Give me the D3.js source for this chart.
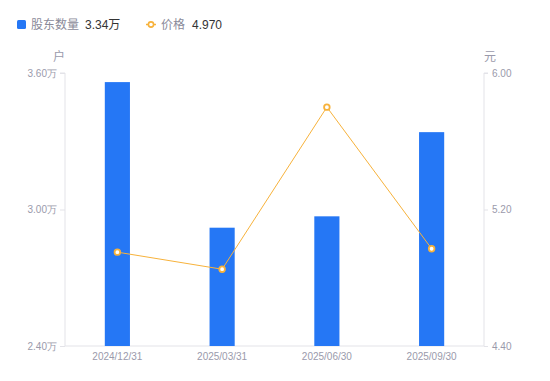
<!DOCTYPE html>
<html>
<head>
<meta charset="utf-8">
<script src="https://cdn.jsdelivr.net/npm/d3@7"></script>
<style>
  body { margin: 0; background: #fff; }
  svg { font-family: "Liberation Sans", "Noto Sans CJK SC", sans-serif; }
</style>
</head>
<body>
<div id="chart"></div>
<script>
// data
const dates = ['2024/12/31', '2025/03/31', '2025/06/30', '2025/09/30']
const holders = [3.56, 2.92, 2.97, 3.34]   // 万户
const prices = [4.95, 4.85, 5.80, 4.97]    // 元
const leftTicks = [2.4, 3.0, 3.6]
const rightTicks = [4.4, 5.2, 6.0]

const width = 550, height = 381
const margin = { top: 73, right: 66, bottom: 35, left: 65 }
const barColor = '#2577f5'
const lineColor = '#f7b23b'
const axisColor = '#e3e3e8'
const labelColor = '#9a9aab'

const svg = d3.select('#chart').append('svg')
  .attr('width', width)
  .attr('height', height)

const x = d3.scaleBand()
  .domain(dates)
  .range([margin.left, width - margin.right])
  .paddingInner(0.76)
  .paddingOuter(0.38)

const xc = d => x(d) + x.bandwidth() / 2

const yL = d3.scaleLinear().domain([2.4, 3.6]).range([height - margin.bottom, margin.top])
const yR = d3.scaleLinear().domain([4.4, 6.0]).range([height - margin.bottom, margin.top])

// left axis
const gl = svg.append('g')
  .attr('transform', 'translate(' + margin.left + ',0)')
  .call(d3.axisLeft(yL).tickValues(leftTicks).tickSize(5).tickPadding(3)
    .tickFormat(d => d3.format('.2f')(d) + '万'))
gl.selectAll('.tick text').attr('fill', labelColor).style('font-size', '10px')

// right axis
const gr = svg.append('g')
  .attr('transform', 'translate(' + (width - margin.right) + ',0)')
  .call(d3.axisRight(yR).tickValues(rightTicks).tickSize(4).tickPadding(4)
    .tickFormat(d3.format('.2f')))
gr.selectAll('.tick text').attr('fill', labelColor).style('font-size', '10px')

// bottom axis
const gb = svg.append('g')
  .attr('transform', 'translate(0,' + (height - margin.bottom) + ')')
  .call(d3.axisBottom(x).tickSize(0).tickPadding(7))
gb.selectAll('.tick text').attr('fill', labelColor).style('font-size', '10px')

svg.selectAll('.domain, .tick line').attr('stroke', axisColor)
gl.select('.domain').attr('d', 'M-5,' + yL(3.6) + 'H0V' + yL(2.4))
gr.select('.domain').attr('d', 'M4,' + yR(6.0) + 'H0V' + yR(4.4))
gb.select('.domain').attr('d', 'M' + margin.left + ',0H' + (width - margin.right))

// unit labels
svg.append('text').attr('x', margin.left - 6).attr('y', 61)
  .attr('text-anchor', 'middle').attr('fill', labelColor).style('font-size', '12px').text('户')
svg.append('text').attr('x', width - margin.right + 6).attr('y', 61)
  .attr('text-anchor', 'middle').attr('fill', labelColor).style('font-size', '12px').text('元')

// bars
svg.append('g').selectAll('rect')
  .data(holders)
  .enter().append('rect')
    .attr('x', (d, i) => x(dates[i]))
    .attr('y', d => yL(d))
    .attr('width', x.bandwidth())
    .attr('height', d => yL(2.4) - yL(d))
    .attr('fill', barColor)

// price line
const line = d3.line()
  .x((d, i) => xc(dates[i]))
  .y(d => yR(d))

svg.append('path')
  .datum(prices)
  .attr('d', line)
  .attr('fill', 'none')
  .attr('stroke', lineColor)
  .attr('stroke-width', 1)

svg.append('g').selectAll('circle')
  .data(prices)
  .enter().append('circle')
    .attr('cx', (d, i) => xc(dates[i]))
    .attr('cy', d => yR(d))
    .attr('r', 2.8)
    .attr('fill', '#fff')
    .attr('stroke', lineColor)
    .attr('stroke-width', 1.8)

// legend
const lg = svg.append('g').style('font-size', '12px')
lg.append('rect').attr('x', 17).attr('y', 20).attr('width', 9).attr('height', 9)
  .attr('rx', 1.5).attr('fill', barColor)
lg.append('text').attr('x', 31).attr('y', 29).attr('fill', '#8a8a99').text('股东数量')
lg.append('text').attr('x', 85).attr('y', 29).attr('fill', '#333').text(d3.format('.2f')(holders[3]) + '万')

lg.append('line').attr('x1', 146).attr('x2', 156).attr('y1', 24.5).attr('y2', 24.5)
  .attr('stroke', lineColor).attr('stroke-width', 1.5)
lg.append('circle').attr('cx', 151).attr('cy', 24.5).attr('r', 2.6)
  .attr('fill', '#fff').attr('stroke', lineColor).attr('stroke-width', 1.6)
lg.append('text').attr('x', 161).attr('y', 29).attr('fill', '#8a8a99').text('价格')
lg.append('text').attr('x', 192).attr('y', 29).attr('fill', '#333').text(d3.format('.3f')(prices[3]))
</script>
</body>
</html>
